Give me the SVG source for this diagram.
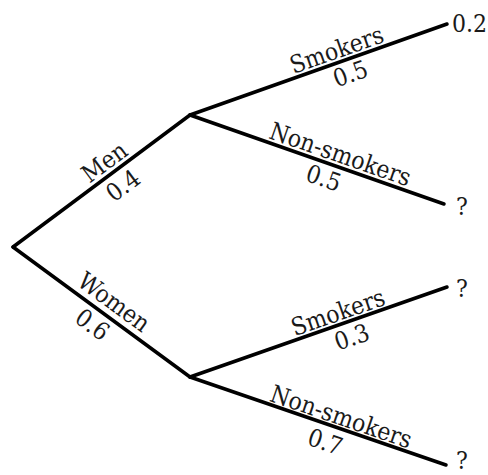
<svg xmlns="http://www.w3.org/2000/svg" width="488" height="475" viewBox="0 0 488 475">
<style>
.e{stroke:#000;stroke-width:3.5;fill:none;stroke-linecap:round;stroke-linejoin:round}
text{font-family:"DejaVu Serif Condensed","DejaVu Serif","Liberation Serif",serif;font-stretch:condensed;font-size:24.5px;fill:#1a1a1a}
.c{text-anchor:middle}
</style>
<rect width="488" height="475" fill="#fff"/>
<g id="connectors">
<line class="e" x1="13" y1="247" x2="190" y2="115"/>
<line class="e" x1="13" y1="247" x2="190" y2="377"/>
<line class="e" x1="190" y1="115" x2="447" y2="24"/>
<line class="e" x1="190" y1="115" x2="444" y2="204"/>
<line class="e" x1="190" y1="377" x2="447" y2="287"/>
<line class="e" x1="190" y1="377" x2="446" y2="465"/>
</g>
<g id="edge-men" transform="translate(13,247) rotate(-36.7)">
<text class="c" x="124" y="-5">Men</text>
<text class="c" x="125" y="25">0.4</text>
</g>
<g id="edge-women" transform="translate(13,247) rotate(36.3)">
<text class="c" x="114" y="-7">Women</text>
<text class="c" x="110" y="24">0.6</text>
</g>
<g id="edge-men-smokers" transform="translate(190,115) rotate(-19.5)">
<text class="c" x="160" y="-4">Smokers</text>
<text class="c" x="165" y="23">0.5</text>
</g>
<g id="edge-men-non" transform="translate(190,115) rotate(19.2)">
<text class="c" x="155" y="-4">Non-smokers</text>
<text class="c" x="147" y="24">0.5</text>
</g>
<g id="edge-women-smokers" transform="translate(190,377) rotate(-19.2)">
<text class="c" x="161" y="-4">Smokers</text>
<text class="c" x="166" y="24">0.3</text>
</g>
<g id="edge-women-non" transform="translate(190,377) rotate(18.9)">
<text class="c" x="156" y="-3">Non-smokers</text>
<text class="c" x="149" y="26">0.7</text>
</g>
<g id="leaf1"><text x="452" y="32">0.2</text></g>
<g id="leaf2"><text x="456" y="215">?</text></g>
<g id="leaf3"><text x="456" y="297">?</text></g>
<g id="leaf4"><text x="456" y="469">?</text></g>
</svg>
